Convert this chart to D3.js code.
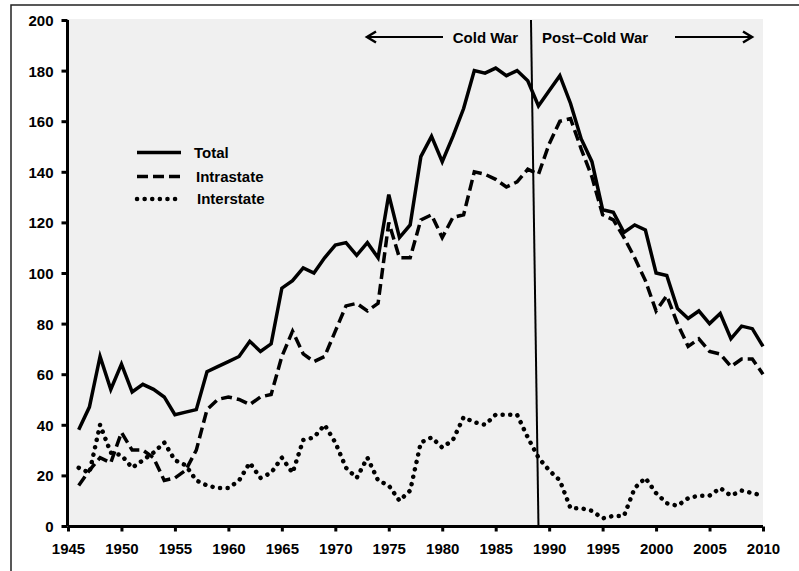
<!DOCTYPE html>
<html><head><meta charset="utf-8">
<script src="https://cdn.jsdelivr.net/npm/d3@7"></script>
<style>body{margin:0;background:#fff}svg{display:block}</style>
</head><body>
<script>
const years = d3.range(1946, 2011);
const total = [38,47,67,54,64,53,56,54,51,44,45,46,61,63,65,67,73,69,72,94,97,102,100,106,111,112,107,112,106,131,114,119,146,154,144,154,165,180,179,181,178,180,176,166,172,178,167,153,144,125,124,116,119,117,100,99,86,82,85,80,84,74,79,78,71];
const intrastate = [16,22,27,25,37,30,30,27,18,19,22,30,46,50,51,50,48,51,52,67,77,68,65,67,77,87,88,85,88,120,106,106,121,123,114,122,123,140,139,137,134,136,141,139,151,160,161,149,138,123,121,114,106,97,85,91,80,71,74,69,68,63,66,66,60];
const interstate = [23,21,40,29,28,23,26,29,33,26,24,18,16,15,15,18,25,19,21,27,21,34,35,40,33,23,19,27,18,16,10,14,33,35,31,34,43,41,40,44,44,44,35,27,22,18,7,7,6,3,4,4,15,19,13,9,8,11,12,12,15,12,14,13,12];
const yTicks = d3.range(0, 201, 20);
const xTicks = d3.range(1945, 2011, 5);
const seriesNames = ["Total", "Intrastate", "Interstate"];
const divider = [{year: 1988.3, value: 200}, {year: 1989, value: 0}];

const W = 799, H = 571;
const svg = d3.select("body").append("svg").attr("width", W).attr("height", H);
const x = d3.scaleLinear().domain([1945, 2010]).range([68, 763]);
const y = d3.scaleLinear().domain([0, 200]).range([526, 20]);
const font = "'Liberation Sans', Arial, sans-serif";

// outer frame
svg.append("rect").attr("x", 11).attr("y", 5).attr("width", 820).attr("height", 600)
  .attr("fill", "none").attr("stroke", "#222").attr("stroke-width", 1.5);

// plot background
svg.append("rect").attr("x", x(1945)).attr("y", y(200) - 1)
  .attr("width", x(2010) - x(1945)).attr("height", y(0) - y(200) + 1)
  .attr("fill", "#f0f0f0");

const styles = [
  {dash: null, cap: "butt", w: 3.5},
  {dash: "11,5", cap: "butt", w: 3.5},
  {dash: "0.1,7.5", cap: "round", w: 4.5}
];
const data = [total, intrastate, interstate];
const line = d3.line().x((d, i) => x(years[i])).y(d => y(d));

data.forEach((s, k) => {
  svg.append("path").datum(s).attr("d", line)
    .attr("fill", "none").attr("stroke", "#000").attr("stroke-width", styles[k].w)
    .attr("stroke-linejoin", "miter").attr("stroke-linecap", styles[k].cap)
    .attr("stroke-dasharray", styles[k].dash);
});

// divider line
svg.append("path").datum(divider)
  .attr("d", d3.line().x(d => x(d.year)).y(d => y(d.value)))
  .attr("stroke", "#000").attr("stroke-width", 2).attr("fill", "none");

// axes
const yAxis = svg.append("g").attr("transform", `translate(${x(1945) - 0.5},0)`)
  .call(d3.axisLeft(y).tickValues(yTicks).tickSize(6).tickPadding(8).tickFormat(d3.format("d")));
const xAxis = svg.append("g").attr("transform", `translate(0,${y(0) + 0.5})`)
  .call(d3.axisBottom(x).tickValues(xTicks).tickSize(5).tickPadding(12).tickFormat(d3.format("d")));
[yAxis, xAxis].forEach(g => {
  g.select(".domain").attr("stroke", "#000").attr("stroke-width", 3)
    .attr("d", g === yAxis ? `M0,${y(200)}V${y(0)}` : `M${x(1945)},0H${x(2010)}`);
  g.selectAll(".tick line").attr("stroke", "#000").attr("stroke-width", 3);
  g.selectAll("text").attr("font-family", font).attr("font-weight", "bold")
    .attr("font-size", 15).attr("fill", "#000");
});
yAxis.selectAll("text").attr("dy", "0.36em");
xAxis.selectAll("text").attr("dy", "0.71em");

// legend
const legY = [152.5, 176.5, 199];
const legTx = [194, 196, 197];
seriesNames.forEach((n, k) => {
  svg.append("line").attr("x1", 137).attr("x2", 181).attr("y1", legY[k]).attr("y2", legY[k])
    .attr("stroke", "#000").attr("stroke-width", styles[k].w)
    .attr("stroke-linecap", styles[k].cap).attr("stroke-dasharray", styles[k].dash);
  svg.append("text").attr("x", legTx[k]).attr("y", legY[k] + 5).text(n)
    .attr("font-family", font).attr("font-weight", "bold").attr("font-size", 15);
});

// period annotations
const ay = 37;
function arrow(x1, x2) {
  const dir = Math.sign(x2 - x1);
  svg.append("line").attr("x1", x1).attr("x2", x2).attr("y1", ay).attr("y2", ay)
    .attr("stroke", "#000").attr("stroke-width", 2);
  svg.append("path").attr("d", `M${x2 - dir * 9},${ay - 5.5}L${x2},${ay}L${x2 - dir * 9},${ay + 5.5}`)
    .attr("fill", "none").attr("stroke", "#000").attr("stroke-width", 2.5);
}
arrow(443, 367);
arrow(675, 752);
svg.append("text").attr("x", 518).attr("y", 43).attr("text-anchor", "end").text("Cold War")
  .attr("font-family", font).attr("font-weight", "bold").attr("font-size", 15);
svg.append("text").attr("x", 542).attr("y", 43).text("Post–Cold War")
  .attr("font-family", font).attr("font-weight", "bold").attr("font-size", 15);
</script>
</body></html>
